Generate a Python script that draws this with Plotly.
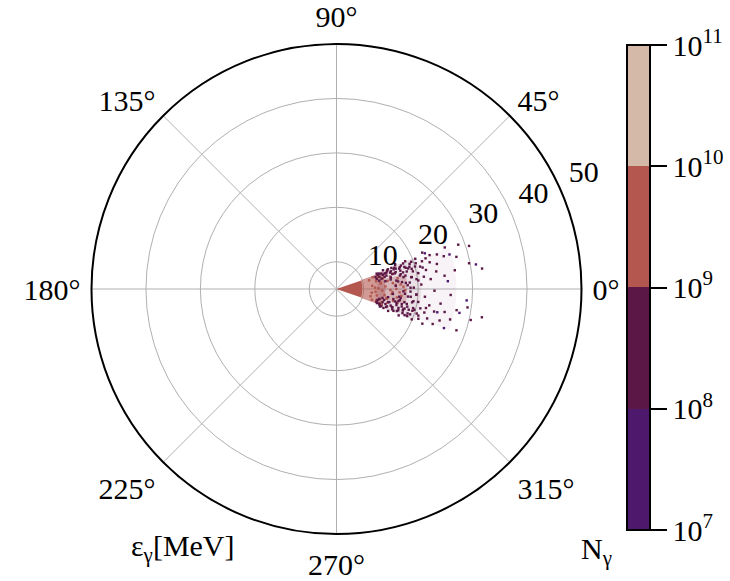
import plotly.graph_objects as go

# ---- data: photon energy ε_γ [MeV] (radius) vs emission angle θ [deg], colour = log10 N_γ ----
# dense core bands: inner radius, outer radius, angular width, log10 N, opacity
band_base = [5.0, 9.8, 14.0, 12.5, 20.5]
band_top = [9.8, 14.0, 18.0, 20.5, 27.0]
band_width = [38, 40, 24, 44, 40]
band_val = [9.6, 9.6, 9.6, 8.5, 8.5]
band_alpha = [1.0, 0.6, 0.3, 0.13, 0.05]

red_r = [11.2, 11.4, 11.6, 11.8, 12.0, 12.2, 12.4, 12.5, 12.7, 12.9, 13.0, 13.2, 13.4, 13.5, 13.7,
         13.9, 14.0, 14.2, 14.4, 14.5, 14.7, 14.9, 15.1, 15.2, 15.4, 15.6, 15.8, 16.0, 16.2, 16.4,
         16.6, 16.8, 17.0, 17.3, 17.6, 11.5, 12.1, 12.6, 13.1, 13.8, 14.3, 14.8, 15.3, 15.9, 16.5]
red_t = [15, -12, 5, -17, 18, -4, 11, -9, 1, 16, -14, 7, -2, -18, 13,
         -7, 3, 17, -11, 9, -15, -1, 13, -5, 6, -12, 15, 0, -8, 10,
         -3, 4, -6, 2, -1, -6, 2, -16, 8, -19, -10, 19, -3, 4, -13]

dark_r = [12.6, 12.8, 13.0, 13.3, 13.5, 13.6, 13.9, 14.0, 14.2, 14.4, 14.5, 14.7, 14.9, 15.0, 15.2,
          15.3, 15.5, 15.7, 15.8, 16.0,
          16.1, 16.2, 16.3, 16.4, 16.5, 16.6, 16.7, 16.8, 16.9, 17.0, 17.1, 17.2, 17.3, 17.4,
          17.5, 17.6, 17.7, 17.8, 17.9, 18.0, 18.1, 18.2, 18.3, 18.4,
          15.4, 15.9, 16.4, 16.9, 17.3, 17.8, 18.2, 18.6, 19.0, 19.3, 19.7, 20.1,
          18.5, 18.6, 18.7, 18.8, 18.9, 19.0, 19.1, 19.2, 19.3, 19.4, 19.5, 19.6, 19.7, 19.8,
          19.9, 20.0, 20.2, 20.3, 20.4, 20.5, 20.6, 20.8, 20.9, 21.0, 21.2, 21.3, 21.5, 21.7,
          21.8, 22.0, 22.1, 22.3, 22.4, 22.5,
          22.8, 23.0, 23.2, 23.4, 23.6, 23.8, 24.0, 24.3, 24.5, 24.8, 25.0, 25.3, 25.6, 26.0,
          26.3, 26.6, 27.0, 27.4, 27.8, 28.3, 28.8, 29.3, 29.8, 30.3,
          32.0, 32.2, 30.6,
          12.5, 12.7, 12.9, 13.1, 13.2, 13.4, 13.7, 13.8, 14.1, 14.3, 14.6, 14.8, 15.1, 15.4, 15.6,
          15.9, 16.1, 16.3, 16.6, 16.9, 17.1, 17.4, 17.6, 17.9, 18.1, 18.4, 18.7, 18.9, 19.2, 19.5,
          13.0, 13.6, 14.1, 14.6, 15.1, 15.6, 16.1, 16.6, 17.1, 17.6, 18.1, 18.6,
          12.9, 13.3, 13.8, 14.3, 14.8, 15.3, 15.8, 16.3, 16.8, 17.3, 17.8, 18.3, 18.8, 19.3,
          19.8, 20.3, 20.8, 21.3, 21.8, 22.3]
dark_t = [14, -15, 19, -19, 13, -22, 17, -13, 22, -17, 15, -20, 20, -14, 12,
          -23, 18, -18, 21, -12,
          15, -21, 16, -15, 19, -11, 23, -10, 12, -19, 13, 16, -13, -23,
          10, 20, -11, -17, 11, -16, 18, -12, 14, -21,
          -5, 3, 7, -8, -2, 5, -6, 1, 9, -9, -4, 6,
          5, 22, -6, -16, 9, 17, -10, 1, -19, 13, -14, 20, -4, 7,
          -22, 16, -9, 11, -17, 21, 3, -13, 15, -20, 8, -5, 18, -15,
          12, -22, 23, -10, 6, -18,
          16, -1, 20, -13, 10, -20, 14, -8, 19, -17, 7, -12, 17, -3,
          21, -15, 9, -10, 15, -19, 20, -8, 11, -13,
          8, -11, 18,
          17, -18, 21, -13, 16, -20, 19, -16, 14, -22, 18, -14, 21, -17, 15,
          -20, 19, -13, 22, -17, 18, -15, 14, -20, 21, -14, 16, -21, 19, -16,
          11, -11, 9, -9, 10, -10, 8, -7, 6, -4, 3, -2,
          -19, 20, -21, 18, -19, 17, -18, 20, -20, 19, -18, 17, -19, 15,
          -15, 18, -18, 14, -12, 19]

faint_r = [24.0, 25.5, 26.7, 29.0, 31.0, 26.0, 22.5, 28.0]
faint_t = [-13, 4, 17, -5, 10, -20, 22, -11]

radial_ticks = [10, 20, 30, 40, 50]
radial_label_angle = [22.5, 22.5, 22.5, 22.5, 22.5]
angle_ticks = [0, 45, 90, 135, 180, 225, 270, 315]
cbar_ticks = [7, 8, 9, 10, 11]
cbar_text = ["10<sup>7</sup>", "10<sup>8</sup>", "10<sup>9</sup>", "10<sup>10</sup>", "10<sup>11</sup>"]

PURPLE = "#4e196c"
MAROON = "#5b1745"
RED = "#b3574f"
BEIGE = "#d5b9a8"
cscale = [[0, PURPLE], [0.25, PURPLE], [0.25, MAROON], [0.5, MAROON],
          [0.5, RED], [0.75, RED], [0.75, BEIGE], [1, BEIGE]]
FONT = "Liberation Serif"

fig = go.Figure()
for i in range(len(band_base)):
    mk = dict(color=[band_val[i]], colorscale=cscale, cmin=7, cmax=11, line=dict(width=0))
    if i == 0:
        mk.update(showscale=True,
                  colorbar=dict(x=627 / 730, xanchor="left", xpad=0, ypad=0,
                                y=1 - 287.5 / 581, yanchor="middle",
                                len=485, lenmode="pixels", thickness=23,
                                outlinewidth=2, outlinecolor="black",
                                tickvals=cbar_ticks, ticktext=cbar_text,
                                ticks="outside", ticklen=16, tickwidth=2, tickcolor="black",
                                tickfont=dict(family=FONT, size=30, color="black")))
    fig.add_trace(go.Barpolar(
        r=[band_top[i] - band_base[i]], theta=[0], width=[band_width[i]], base=[band_base[i]],
        marker=mk, opacity=band_alpha[i], showlegend=False, hoverinfo="skip"))

for rr, tt, v in [(red_r, red_t, 9.5), (dark_r, dark_t, 8.5), (faint_r, faint_t, 7.5)]:
    fig.add_trace(go.Scatterpolar(
        r=rr, theta=tt, mode="markers",
        marker=dict(symbol="square", size=2.4, color=[v] * len(rr), colorscale=cscale,
                    cmin=7, cmax=11, line=dict(width=0)),
        showlegend=False, hoverinfo="skip"))

# radial tick labels, placed at the tick values along the label angle
fig.add_trace(go.Scatterpolar(
    r=radial_ticks, theta=radial_label_angle, mode="markers+text",
    text=[str(v) for v in radial_ticks], textposition="top right",
    textfont=dict(family=FONT, size=30, color="black"),
    marker=dict(size=8, color="rgba(0,0,0,0)"),
    cliponaxis=False, showlegend=False, hoverinfo="skip"))

fig.update_layout(
    width=730, height=581,
    margin=dict(l=0, r=0, t=0, b=0, autoexpand=False),
    paper_bgcolor="white",
    font=dict(family=FONT, size=30, color="black"),
    polar=dict(
        domain=dict(x=[91.5 / 730, 581.5 / 730], y=[1 - 534 / 581, 1 - 44 / 581]),
        bgcolor="white",
        angularaxis=dict(direction="counterclockwise", rotation=0,
                         tickmode="array", tickvals=angle_ticks,
                         ticktext=[f"{a}°" for a in angle_ticks],
                         showline=True, linecolor="black", linewidth=2,
                         gridcolor="#b0b0b0", gridwidth=1,
                         ticks="outside", ticklen=4, tickcolor="rgba(0,0,0,0)",
                         tickfont=dict(family=FONT, size=30)),
        radialaxis=dict(range=[5, 50], tickmode="array", tickvals=radial_ticks,
                        angle=22.5, showline=False, showticklabels=False, ticks="",
                        gridcolor="#b0b0b0", gridwidth=1),
    ),
    annotations=[
        dict(text="ε<sub>γ</sub>[MeV]", x=183 / 730, y=1 - 548 / 581, xref="paper", yref="paper",
             xanchor="center", yanchor="middle",
             showarrow=False, font=dict(family=FONT, size=30)),
        dict(text="N<sub>γ</sub>", x=596 / 730, y=1 - 551 / 581, xref="paper", yref="paper",
             xanchor="center", yanchor="middle",
             showarrow=False, font=dict(family=FONT, size=30)),
    ],
)

fig.write_html("out.html", config={"displayModeBar": False},
               post_script="document.body.style.margin='0px';")
